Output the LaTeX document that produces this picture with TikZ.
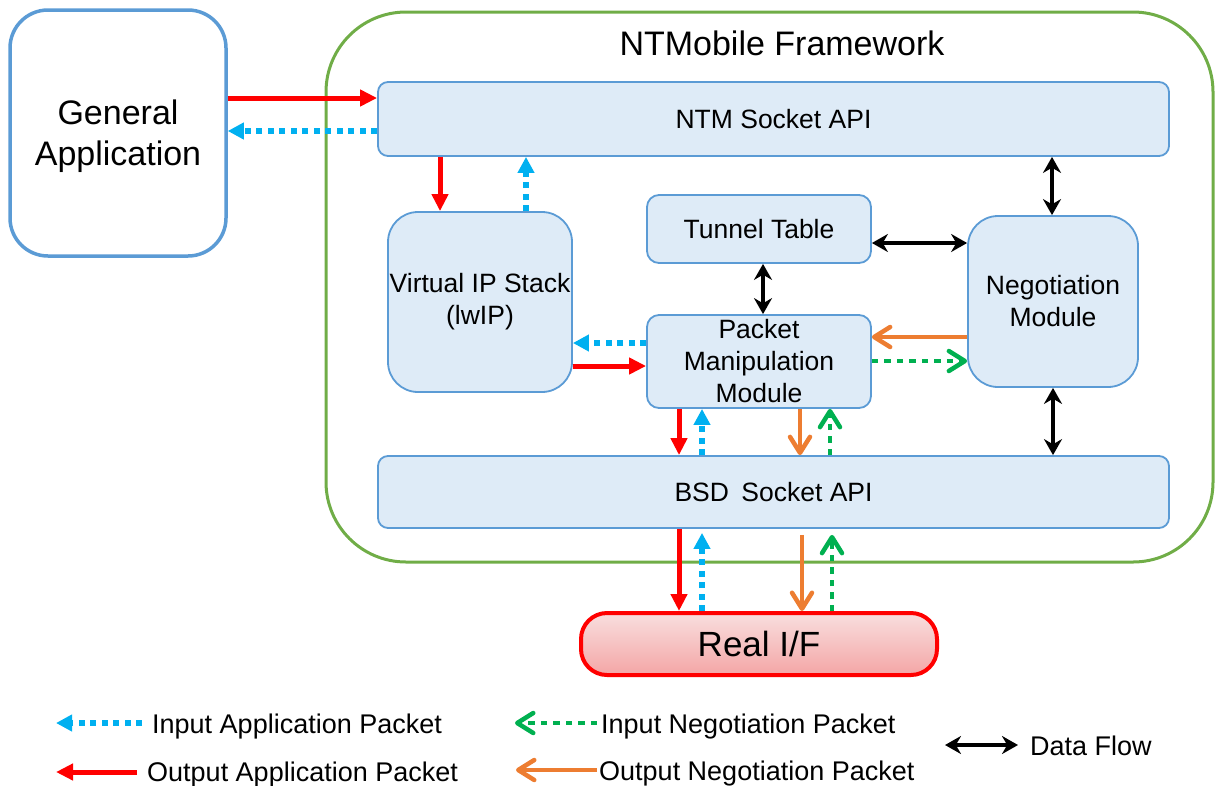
\documentclass[tikz,border=0pt]{standalone}
\usepackage{fontspec}
\setmainfont{Liberation Sans}
\usetikzlibrary{arrows.meta}

\definecolor{boxblue}{RGB}{91,155,213}
\definecolor{boxfill}{RGB}{222,235,247}
\definecolor{framegreen}{RGB}{112,173,71}
\definecolor{inblue}{RGB}{0,176,240}
\definecolor{outred}{RGB}{255,0,0}
\definecolor{negorange}{RGB}{237,125,49}
\definecolor{neggreen}{RGB}{0,176,80}
\definecolor{iftop}{RGB}{248,222,222}
\definecolor{ifbot}{RGB}{244,166,166}

\begin{document}
\begin{tikzpicture}[x=1pt,y=-1pt,
  module/.style={draw=boxblue, line width=1.8pt, fill=boxfill,
    rounded corners=#1, inner sep=0pt, align=center,
    font=\fontsize{26.5}{32}\selectfont},
  module/.default=10pt,
  outapp/.style={draw=outred, line width=5pt,
    -{Triangle[length=17pt,width=16pt]}},
  inapp/.style={draw=inblue, line width=5.5pt, dash pattern=on 6pt off 5.5pt,
    -{Triangle[length=16pt,width=16pt]}},
  outneg/.style={draw=negorange, line width=4.5pt,
    -{Straight Barb[length=16pt,width=20pt,round]}},
  inneg/.style={draw=neggreen, line width=4.5pt, dash pattern=on 6.5pt off 6pt,
    -{Straight Barb[length=16pt,width=20pt,round]}},
  dataflow/.style={draw=black, line width=3.5pt,
    {Stealth[length=16pt,width=18pt]}-{Stealth[length=16pt,width=18pt]}},
  legendtext/.style={anchor=base west, inner sep=0pt,
    font=\fontsize{27}{32}\selectfont}
]
\useasboundingbox (0,0) rectangle (1217,785);

% framework outline and title
\node[draw=framegreen, line width=3pt, rounded corners=80pt,
      minimum width=887pt, minimum height=550pt, inner sep=0pt]
      (frame) at (769.5,287) {};
\node[font=\fontsize{34}{40}\selectfont, inner sep=0pt] (title) at (782,43) {NTMobile Framework};

% application outside the framework
\node[draw=boxblue, line width=3.5pt, fill=white, rounded corners=38pt,
      minimum width=216pt, minimum height=246pt, inner sep=0pt]
      (ga) at (118,133) {};
\node[align=center, inner sep=0pt, font=\fontsize{34}{41}\selectfont]
      (galabel) at ([yshift=-3pt]ga.center) {General\\Application};

% framework modules
\node[module, minimum width=791pt, minimum height=74pt] (ntm) at (773.5,119) {NTM Socket API};
\node[module=30pt, minimum width=184pt, minimum height=180pt] (vip) at (480,302) {Virtual IP Stack\\(lwIP)};
\node[module=12pt, minimum width=224pt, minimum height=68pt] (tt) at (759,229) {Tunnel Table};
\node[module=12pt, minimum width=224pt, minimum height=93pt] (pmm) at (759,361.5) {Packet\\Manipulation\\Module};
\node[module=30pt, minimum width=170pt, minimum height=171pt] (neg) at (1053,301.5) {Negotiation\\Module};
\node[module, minimum width=791pt, minimum height=72pt] (bsd) at (773.5,492) {BSD\hspace{5pt} Socket API};

% real interface
\node[draw=outred, line width=4pt, top color=iftop, bottom color=ifbot,
      rounded corners=26pt, minimum width=356pt, minimum height=62pt,
      inner sep=0pt, font=\fontsize{35}{40}\selectfont] (rif) at (759,644) {Real I/F};

% application <-> NTM socket API
\draw[outapp] (ga.east |- 0,98) -- (ntm.west |- 0,98);
\draw[inapp] (ntm.west |- 0,131) -- (ga.east |- 0,131);

% NTM socket API <-> virtual IP stack
\draw[outapp] (ntm.south -| 440,0) -- (vip.north -| 440,0);
\draw[inapp] (vip.north -| 526,0) -- (ntm.south -| 526,0);

% data flows of the negotiation module and tunnel table
\draw[dataflow] (ntm.south -| 1052,0) -- (neg.north -| 1052,0);
\draw[dataflow] (neg.south -| 1053,0) -- (bsd.north -| 1053,0);
\draw[dataflow] (tt.east |- 0,243) -- (neg.west |- 0,243);
\draw[dataflow] (tt.south -| 763,0) -- (pmm.north -| 763,0);

% virtual IP stack <-> packet manipulation
\draw[inapp] (pmm.west |- 0,343) -- (vip.east |- 0,343);
\draw[outapp] (vip.east |- 0,366) -- (pmm.west |- 0,366);

% negotiation module <-> packet manipulation
\draw[outneg] (neg.west |- 0,337) -- (pmm.east |- 0,337);
\draw[inneg] (pmm.east |- 0,361) -- (neg.west |- 0,361);

% packet manipulation <-> BSD socket API
\draw[outapp] (pmm.south -| 679,0) -- (bsd.north -| 679,0);
\draw[inapp] (bsd.north -| 702,0) -- (pmm.south -| 702,0);
\draw[outneg] (pmm.south -| 800,0) -- (bsd.north -| 800,0);
\draw[inneg] (bsd.north -| 830,0) -- (pmm.south -| 830,0);

% BSD socket API <-> real interface
\draw[outapp] (bsd.south -| 679,0) -- (rif.north -| 679,0);
\draw[inapp, shorten >=4pt] (rif.north -| 702,0) -- (bsd.south -| 702,0);
\draw[outneg, shorten <=6pt] (bsd.south -| 802,0) -- (rif.north -| 802,0);
\draw[inneg, shorten >=6pt] (rif.north -| 832,0) -- (bsd.south -| 832,0);

% legend
\coordinate (l1a) at (142,723); \coordinate (l1b) at (56,723);
\coordinate (l2a) at (137,772); \coordinate (l2b) at (56,772);
\coordinate (l3a) at (597,723); \coordinate (l3b) at (515,723);
\coordinate (l4a) at (597,770); \coordinate (l4b) at (516,770);
\coordinate (l5a) at (945,745); \coordinate (l5b) at (1018,745);
\draw[inapp] (l1a) -- (l1b);
\draw[outapp] (l2a) -- (l2b);
\draw[inneg] (l3a) -- (l3b);
\draw[outneg] (l4a) -- (l4b);
\draw[dataflow] (l5a) -- (l5b);
\node[legendtext] (t1) at (152,733) {Input Application Packet};
\node[legendtext] (t2) at (147,781) {Output Application Packet};
\node[legendtext] (t3) at (601,733) {Input Negotiation Packet};
\node[legendtext] (t4) at (599,780) {Output Negotiation Packet};
\node[legendtext] (t5) at (1030,755) {Data Flow};
\end{tikzpicture}
\end{document}
